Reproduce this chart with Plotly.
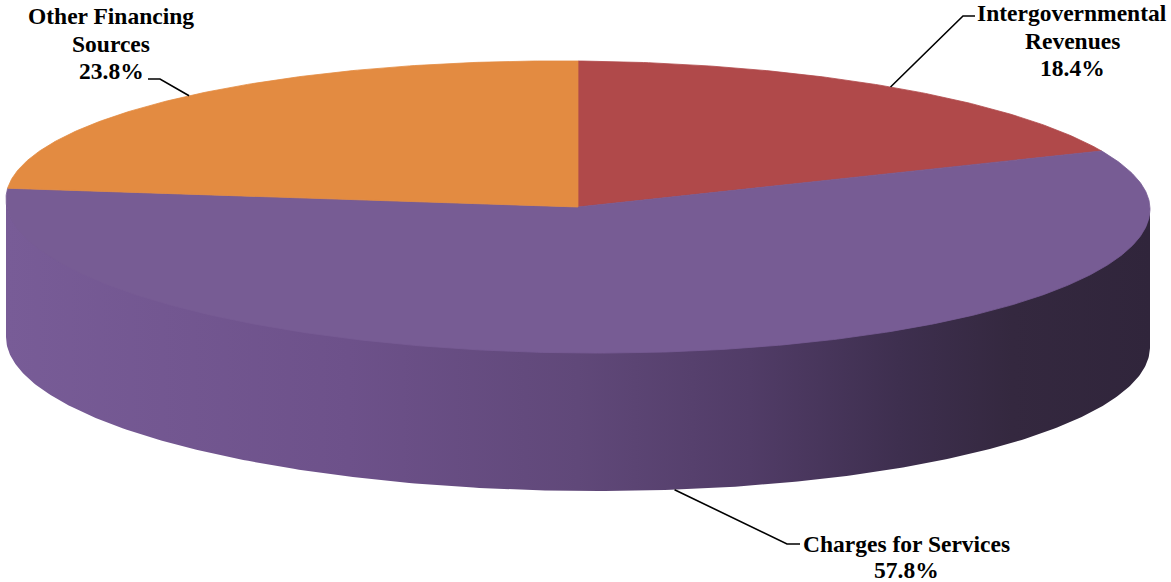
import numpy as np
import plotly.graph_objects as go

# ---- data ----
labels = ["Intergovernmental<br>Revenues", "Charges for Services", "Other Financing<br>Sources"]
values = [18.4, 57.8, 23.8]
colors = ["#B0494A", "#775C94", "#E38B41"]

# ---- geometry of the pseudo-3D pie (pixel-like units) ----
W, H = 1171, 582
CX, CY = 578, 204
A = 572          # horizontal semi-axis
BB, BF = 143, 149  # back / front vertical semi-axes (perspective)
K = 0.0087       # slight tilt
DEPTH = 138
FONT = "'Liberation Serif', 'Times New Roman', serif"
FSIZE = 23.5
LINE_H = 27.5


def proj(theta_deg, dz=0.0):
    t = np.radians(np.asarray(theta_deg, dtype=float))
    s, c = np.sin(t), np.cos(t)
    b = np.where(c > 0, BB, BF)
    x = CX + A * s
    y = CY - b * c + K * (x - CX) + dz
    return x, y


fig = go.Figure()

# side wall (front half)
t_top = np.linspace(90, 270, 300)
xt, yt = proj(t_top, -1.5)
xb, yb = proj(t_top[::-1], DEPTH)
fig.add_trace(go.Scatter(
    x=np.concatenate([xt, xb]), y=np.concatenate([yt, yb]),
    mode="lines", fill="toself", line=dict(width=0),
    fillgradient=dict(type="horizontal", colorscale=[
        [0.0, "#785C97"], [0.3, "#6D518A"], [0.5, "#604879"],
        [0.65, "#513C67"], [0.78, "#3E2F4F"], [0.88, "#34283F"], [1.0, "#30253B"]]),
    hoverinfo="skip", showlegend=False))

# top face slices
total = sum(values)
start = 0.0
mids = []
for lab, v, col in zip(labels, values, colors):
    span = v / total * 360
    tt = np.linspace(start, start + span, max(int(span * 2), 10))
    x, y = proj(tt)
    fig.add_trace(go.Scatter(
        x=np.concatenate([[CX], x, [CX]]),
        y=np.concatenate([[CY + 3], y, [CY + 3]]),
        mode="lines", fill="toself", fillcolor=col, line=dict(width=0.8, color=col),
        hoverinfo="skip", showlegend=False))
    mids.append(start + span / 2)
    start += span

# labels with leader lines
label_layout = [
    # (text center x, first line y, elbow x, elbow y, end x, on_side, line step)
    (1072, 13, 963, 16, 975, False, LINE_H),
    (906, 544, 787, 544, 800, True, 25.5),
    (111, 16, 160, 79, 148, False, LINE_H),
]
for lab, v, mid, (tx, ty, ex, ey, hx, side, step) in zip(labels, values, mids, label_layout):
    ax, ay = proj(mid, DEPTH if side else 0)
    fig.add_trace(go.Scatter(
        x=[float(ax), ex, hx], y=[float(ay), ey, ey], mode="lines",
        line=dict(color="black", width=1.6), hoverinfo="skip", showlegend=False))
    lines = lab.split("<br>") + [f"{v:.1f}%"]
    for i, ln in enumerate(lines):
        fig.add_annotation(
            x=tx, y=ty + i * step, xref="x", yref="y", showarrow=False,
            text=f"<b>{ln}</b>", align="center",
            xanchor="center", yanchor="middle",
            font=dict(family=FONT, size=FSIZE, color="black"))

fig.update_layout(
    width=W, height=H, margin=dict(l=0, r=0, t=0, b=0),
    paper_bgcolor="white", plot_bgcolor="white",
    font=dict(family=FONT),
    xaxis=dict(range=[0, W], visible=False, fixedrange=True),
    yaxis=dict(range=[H, 0], visible=False, fixedrange=True),
)
fig.write_html("out.html")
